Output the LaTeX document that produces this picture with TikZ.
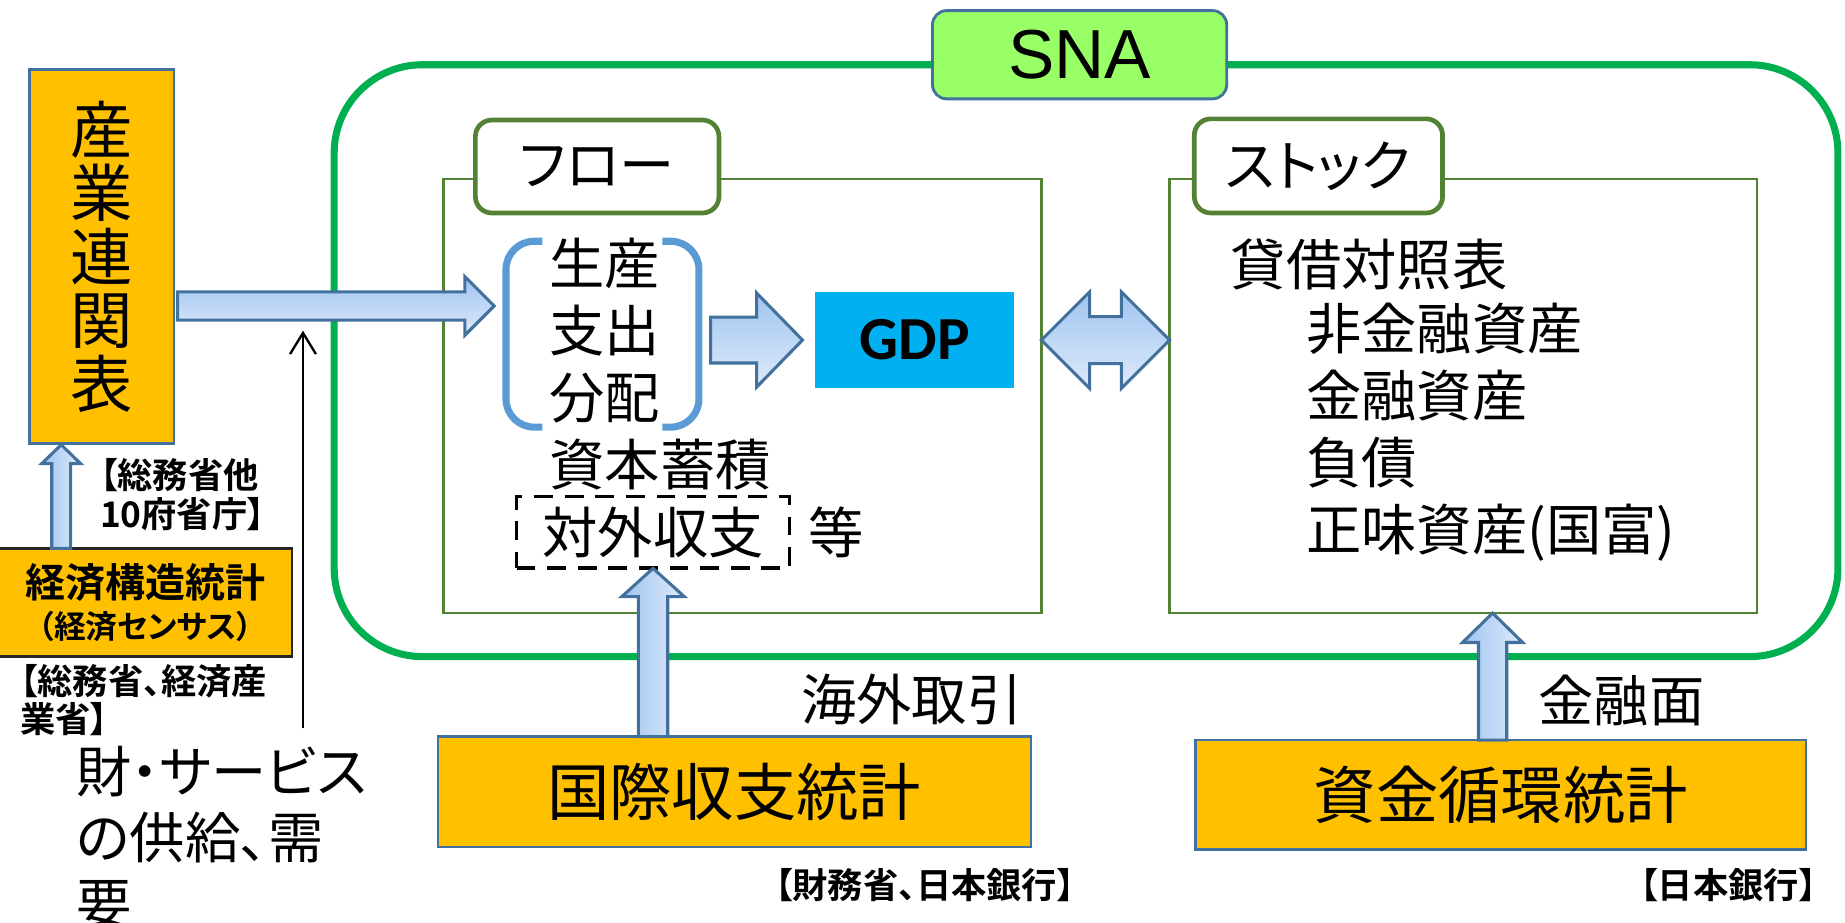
\documentclass[tikz,border=0pt]{standalone}
\usepackage{fontspec}
\setmainfont{Noto Sans CJK JP}[RawFeature={+palt},BoldFont={Noto Sans CJK JP Bold}]
\newfontfamily\snafont{Liberation Sans}
\newfontfamily\gdpfont{Carlito}
\usepackage{xcolor}
\usetikzlibrary{calc,arrows.meta}

\definecolor{statorange}{HTML}{FFC000}
\definecolor{boxline}{HTML}{41719C}
\definecolor{snagreen}{HTML}{00B050}
\definecolor{snafill}{HTML}{99FF66}
\definecolor{framegreen}{HTML}{548235}
\definecolor{bracketblue}{HTML}{5B9BD5}
\definecolor{gdpblue}{HTML}{00B0F0}
\definecolor{arrowtop}{RGB}{160,196,240}
\definecolor{arrowbottom}{RGB}{222,234,250}

% block arrows: base, tip, shaft half width, head half width, head length
\newcommand\upblock[5]{%
  \draw[blockup] ($(#1)+(-#3,0)$) -- ($(#2)+(-#3,#5)$) -- ($(#2)+(-#4,#5)$) -- (#2)
    -- ($(#2)+(#4,#5)$) -- ($(#2)+(#3,#5)$) -- ($(#1)+(#3,0)$) -- cycle;}
\newcommand\rightblock[5]{%
  \draw[blockright] ($(#1)+(0,-#3)$) -- ($(#2)+(-#5,-#3)$) -- ($(#2)+(-#5,-#4)$) -- (#2)
    -- ($(#2)+(-#5,#4)$) -- ($(#2)+(-#5,#3)$) -- ($(#1)+(0,#3)$) -- cycle;}
\newcommand\bothblock[5]{%
  \draw[blockright] (#1) -- ($(#1)+(#5,-#4)$) -- ($(#1)+(#5,-#3)$) -- ($(#2)+(-#5,-#3)$)
    -- ($(#2)+(-#5,-#4)$) -- (#2) -- ($(#2)+(-#5,#4)$) -- ($(#2)+(-#5,#3)$)
    -- ($(#1)+(#5,#3)$) -- ($(#1)+(#5,#4)$) -- cycle;}

\begin{document}
\begin{tikzpicture}[x=0.5pt, y=-0.5pt,
    every node/.style={inner sep=0pt, outer sep=0pt},
    statbox/.style={draw=boxline, line width=1pt, fill=statorange},
    tagbox/.style={draw=framegreen, line width=2pt, fill=white, rounded corners=7pt},
    areabox/.style={draw=framegreen, line width=1pt},
    bodytext/.style={font=\fontsize{23.5}{28.5}\selectfont},
    bigtext/.style={font=\fontsize{26.5}{27}\selectfont},
    agency/.style={font=\bfseries\fontsize{15}{16.5}\selectfont},
    blockright/.style={draw=boxline, line width=1.3pt, top color=arrowtop, bottom color=arrowbottom},
    blockup/.style={draw=boxline, line width=1.3pt, left color=arrowtop, right color=arrowbottom},
    bracketline/.style={draw=bracketblue, line width=3pt, rounded corners=12pt}
]
    \useasboundingbox (0,0) rectangle (1568,784);

    %SNA
    \node (sna_frame) [draw=snagreen, line width=3pt, rounded corners=37.5pt,
        minimum width=639pt, minimum height=251.5pt] at (923,306.5) {};
    \node (sna_tag) [draw=boxline, line width=1.2pt, fill=snafill, rounded corners=6pt,
        minimum width=125pt, minimum height=37.5pt,
        font=\snafont\fontsize{29.5}{30}\selectfont] at (917.5,46.5)
    {
        SNA
    };

    %flow and stock
    \node (flow_box) [areabox, minimum width=254pt, minimum height=184.5pt] at (631,336.5) {};
    \node (flow_tag) [tagbox, minimum width=103.5pt, minimum height=39.5pt, bodytext] at (507.5,141.5)
    {
        フロー
    };
    \node (stock_box) [areabox, minimum width=249.5pt, minimum height=184.5pt] at (1243.5,336.5) {};
    \node (stock_tag) [tagbox, minimum width=105.5pt, minimum height=40pt, bodytext] at (1120.5,141)
    {
        ストック
    };

    \node (trio) [anchor=west, align=left, bodytext] at (467,281)
    {
        生産\\支出\\分配
    };
    \draw[bracketline] (461,205) -- (430,205) -- (430,363) -- (461,363);
    \draw[bracketline] (563,205) -- (594,205) -- (594,363) -- (563,363);
    \node (shihon) [anchor=west, bodytext] at (467,395)
    {
        資本蓄積
    };
    \node (taigai) [draw, dash pattern=on 8pt off 5pt, line width=1.6pt,
        minimum width=116pt, minimum height=30.5pt, bodytext] at (555,452.5)
    {
        対外収支
    };
    \node (nado) [bodytext] at (711,452)
    {
        等
    };

    \node (gdp) [fill=gdpblue, minimum width=84.5pt, minimum height=41pt,
        font=\gdpfont\bfseries\fontsize{26}{26}\selectfont] at (777.5,289)
    {
        GDP
    };

    \node (taishaku) [anchor=west, bodytext] at (1046,225)
    {
        貸借対照表
    };
    \node (shisan) [anchor=west, align=left, bodytext] at (1110,367)
    {
        非金融資産\\金融資産\\負債\\正味資産(国富)
    };

    %source statistics
    \node (sangyo) [statbox, minimum width=61.5pt, minimum height=159pt, align=center, bigtext] at (86.5,218)
    {
        産\\業\\連\\関\\表
    };
    \node (kozo) [statbox, draw=black!85, minimum width=124.5pt, minimum height=46pt, align=center,
        font=\bfseries\fontsize{17}{17.5}\selectfont] at (123.5,512)
    {
        経済構造統計\\{\fontsize{13.5}{17.5}\selectfont （経済センサス）}
    };
    \node (kokusai) [statbox, minimum width=252pt, minimum height=47pt, bigtext] at (624,673)
    {
        国際収支統計
    };
    \node (shikin) [statbox, minimum width=259.5pt, minimum height=46.5pt, bigtext] at (1275.5,675.5)
    {
        資金循環統計
    };

    %labels
    \node (somu_ta) [anchor=west, align=left, agency] at (85,420.5)
    {
        【総務省他\\10府省庁】
    };
    \node (somu_keisan) [anchor=west, align=left, agency] at (17,595)
    {
        【総務省、経済産\\業省】
    };
    \node (goods) [anchor=west, align=left, font=\fontsize{23.5}{28}\selectfont] at (65,712)
    {
        財・サービス\\の供給、需\\要
    };
    \node (kaigai) [bodytext] at (775,594)
    {
        海外取引
    };
    \node (kinyu) [bodytext] at (1378,595)
    {
        金融面
    };
    \node (zaimu) [agency] at (786,752)
    {
        【財務省、日本銀行】
    };
    \node (nichigin) [agency] at (1469,752)
    {
        【日本銀行】
    };

    %arrows
    \coordinate (io_tip) at (420,260);
    \coordinate (io_start) at ($(sangyo.east |- io_tip)+(3,0)$);
    \rightblock{io_start}{io_tip}{12}{25}{25}

    \coordinate (gdp_tip) at ($(gdp.west)+(-11,0)$);
    \coordinate (gdp_start) at ($(gdp.west)+(-89,0)$);
    \rightblock{gdp_start}{gdp_tip}{19.5}{40}{39}

    \coordinate (bs_left) at (flow_box.east |- gdp.east);
    \coordinate (bs_right) at (stock_box.west |- gdp.east);
    \bothblock{bs_left}{bs_right}{20}{41}{41}

    \coordinate (kokusai_tip) at (taigai.south);
    \coordinate (kokusai_base) at (kokusai_tip |- kokusai.north);
    \upblock{kokusai_base}{kokusai_tip}{12.5}{26.5}{24}

    \coordinate (shikin_tip) at ($(stock_box.south)+(25,0)$);
    \coordinate (shikin_base) at (shikin_tip |- shikin.north);
    \upblock{shikin_base}{shikin_tip}{12}{25.5}{25}

    \coordinate (kozo_tip) at ($(sangyo.south)+(-34.5,1)$);
    \coordinate (kozo_base) at (kozo_tip |- kozo.north);
    \upblock{kozo_base}{kozo_tip}{8}{16.5}{16}

    \coordinate (supply_tip) at (257.5,281);
    \coordinate (supply_foot) at (257.5,619);
    \draw[-{Straight Barb[length=9pt,width=11pt]}, line width=1pt] (supply_foot) -- (supply_tip);

\end{tikzpicture}
\end{document}
